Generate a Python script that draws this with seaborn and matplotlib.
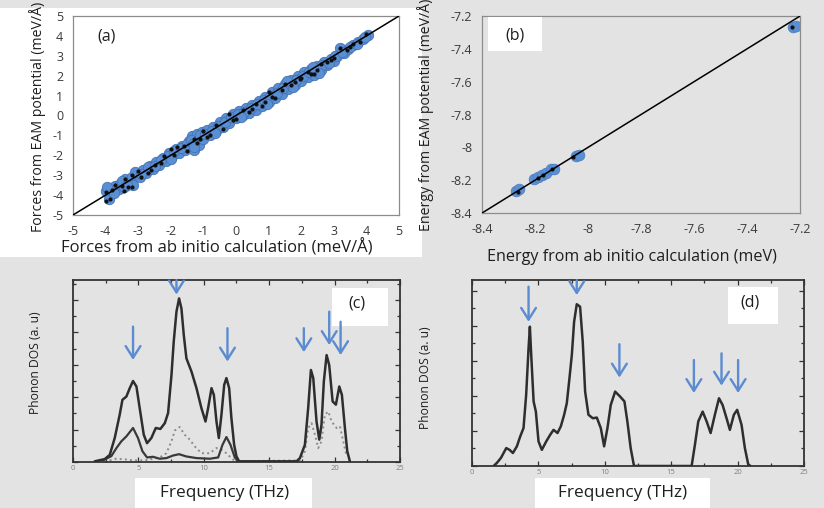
import numpy as np
import matplotlib
matplotlib.use("Agg")
import matplotlib.pyplot as plt
import seaborn as sns
from matplotlib.patches import Rectangle
from matplotlib.ticker import MultipleLocator, FuncFormatter

# ---- data ----
# (a) forces: EAM vs ab initio (meV/A)
blue_x = [-4.0, -3.9, -3.85, -3.7, -3.6, -3.55, -3.45, -3.4, -3.3, -3.2, -3.15, -3.05, -2.95,
          -2.85, -2.75, -2.65, -2.55, -2.45, -2.35, -2.25, -2.15, -2.05, -1.95, -1.85, -1.75,
          -1.65, -1.55, -1.45, -1.4, -1.35, -1.3, -1.25, -1.2, -1.15, -1.05, -1.0, -0.9, -0.8,
          -0.7, -0.6, -0.5, -0.4, -0.3, -0.2, -0.1, 0.0, 0.1, 0.2, 0.3, 0.4, 0.5, 0.6, 0.7, 0.8,
          0.9, 1.0, 1.1, 1.2, 1.3, 1.4, 1.5, 1.6, 1.7, 1.8, 1.9, 2.0, 2.1, 2.2, 2.3, 2.4, 2.5,
          2.6, 2.7, 2.8, 2.9, 3.0, 3.1, 3.2, 3.3, 3.45, 3.6, 3.75, 3.9, 4.05,
          -3.95, -3.75, -3.5, -3.35, -3.1, -2.9, -2.7, -2.5, -2.3, -2.1, -1.9, -1.7, -1.5,
          -1.38, -1.32, -1.28, -1.1, -0.95, -0.75, -0.55, -0.35, -0.15, 0.05, 0.25, 0.45, 0.65,
          0.85, 1.05, 1.25, 1.45, 1.65, 1.85, 2.05, 2.25, 2.45, 2.65, 2.85, 3.05, 3.25, 3.5,
          3.7, 3.95, 2.55, 1.75, 0.95, 0.15, -0.65, -2.0, 2.35, 1.55]
blue_y = [-3.8, -4.2, -3.75, -3.55, -3.7, -3.45, -3.6, -3.2, -3.35, -3.1, -3.5, -2.95, -3.1,
          -2.75, -2.9, -2.55, -2.7, -2.35, -2.5, -2.15, -2.3, -1.9, -2.05, -1.7, -1.9,
          -1.55, -1.75, -1.3, -1.6, -1.05, -1.75, -1.3, -0.95, -1.5, -0.85, -1.2, -0.75, -1.0,
          -0.6, -0.8, -0.35, -0.6, -0.15, -0.4, 0.1, -0.15, 0.25, 0.0, 0.4, 0.15, 0.55, 0.3, 0.75, 0.5,
          0.95, 0.7, 1.2, 0.9, 1.4, 1.1, 1.6, 1.35, 1.8, 1.55, 2.0, 1.75, 2.2, 1.95, 2.35, 2.05, 2.5,
          2.3, 2.7, 2.55, 2.85, 2.75, 3.0, 3.4, 3.15, 3.35, 3.55, 3.7, 3.85, 4.05,
          -3.6, -3.9, -3.3, -3.5, -2.85, -2.95, -2.6, -2.55, -2.25, -2.05, -1.8, -1.65, -1.45,
          -1.25, -1.45, -1.6, -1.0, -0.95, -0.8, -0.55, -0.35, -0.1, 0.05, 0.2, 0.4, 0.6,
          0.8, 1.0, 1.15, 1.4, 1.6, 1.8, 2.0, 2.2, 2.35, 2.55, 2.65, 3.0, 3.2, 3.45,
          3.6, 3.95, 2.15, 1.45, 0.6, -0.1, -0.9, -2.2, 2.45, 1.75]
black_x = [-4.0, -3.85, -4.0, -3.8, -3.7, -3.5, -3.45, -3.3, -3.2, -3.4, -3.2, -3.0, -2.9, -2.7,
           -2.5, -2.3, -2.0, -1.9, -1.8, -1.5, -1.3, -1.2, -1.0, -0.9, -0.6, -0.4, -0.2, 0.0,
           0.2, 0.4, 0.6, 0.8, 1.0, 1.2, 1.4, 1.5, 1.8, 2.0, 2.2, 2.4, 2.6, 2.8, 3.0, 3.2, 3.4,
           3.6, 3.8, 4.0, -2.6, -2.2, -1.6, -0.8, -0.1, 0.5, 1.1, 1.7, 2.3, 2.9, 3.5, -1.1, 0.9,
           2.5, 1.95]
black_y = [-4.3, -4.2, -3.85, -3.75, -3.5, -3.55, -3.8, -3.6, -3.6, -3.2, -3.0, -2.8, -3.1, -2.9,
           -2.5, -2.4, -1.7, -2.0, -1.6, -1.8, -1.2, -1.4, -0.8, -1.1, -0.5, -0.7, 0.1, -0.2,
           0.3, 0.2, 0.6, 0.5, 1.2, 0.9, 1.3, 1.6, 1.7, 1.9, 2.2, 2.1, 2.6, 2.7, 2.9, 3.4, 3.3,
           3.6, 3.7, 4.1, -2.75, -2.05, -1.55, -1.0, -0.25, 0.35, 0.95, 1.55, 2.1, 2.8, 3.45, -1.2, 0.7,
           2.3, 1.85]
diag_a = [-5, 5]

# (b) energies: EAM vs ab initio (meV)
eb_blue_x = [-8.27, -8.26, -8.205, -8.19, -8.175, -8.16, -8.14, -8.13, -8.045, -8.035, -7.225, -7.215]
eb_blue_y = [-8.265, -8.255, -8.195, -8.18, -8.17, -8.155, -8.135, -8.13, -8.05, -8.045, -7.265, -7.26]
eb_black_x = [-8.265, -8.19, -8.17, -8.135, -8.055, -7.23]
eb_black_y = [-8.27, -8.185, -8.17, -8.13, -8.06, -7.27]
diag_b = [-8.4, -7.2]

# (c) phonon DOS, three curves
c_total_f = [1.66, 2.43, 2.81, 3.19, 3.57, 3.78, 4.08, 4.34, 4.59, 4.85, 5.1, 5.41, 5.66, 5.99,
             6.33, 6.68, 7.02, 7.27, 7.53, 7.7, 7.91, 8.11, 8.29, 8.47, 8.67, 9.06, 9.44, 9.82,
             10.13, 10.33, 10.59, 10.77, 10.97, 11.15, 11.35, 11.56, 11.73, 11.94, 12.11, 12.32,
             12.5, 12.7, 17.09, 17.35, 17.73, 17.98, 18.19, 18.37, 18.62, 18.83, 19.0, 19.18,
             19.39, 19.59, 19.85, 20.1, 20.36, 20.56, 20.79, 20.97, 21.17]
c_total_d = [0.02, 0.09, 0.22, 0.74, 1.46, 1.92, 2.02, 2.28, 2.5, 2.33, 1.66, 0.84, 0.58, 0.74,
             1.05, 1.02, 1.2, 1.51, 2.69, 3.71, 4.64, 5.05, 4.74, 3.92, 3.2, 2.79, 2.28, 1.66,
             1.25, 1.66, 2.28, 2.07, 1.25, 0.74, 1.46, 2.38, 2.59, 2.28, 1.36, 0.53,
             0.17, 0.02, 0.02, 0.12, 0.53, 1.66, 2.84, 2.59, 1.25, 0.69, 1.15, 2.49,
             3.3, 2.99, 1.87, 1.77, 2.33, 2.07, 1.05, 0.33, 0.02]
c_low_f = [2.3, 2.93, 3.32, 3.7, 4.08, 4.59, 4.97, 5.31, 5.66, 6.12, 6.63, 7.14, 7.65, 8.11, 8.67,
           9.44, 10.46, 11.1, 11.43, 11.73, 12.04, 12.37, 12.63]
c_low_d = [0.05, 0.18, 0.43, 0.64, 0.79, 1.05, 0.74, 0.33, 0.14, 0.16, 0.1, 0.12, 0.2, 0.24, 0.17,
           0.12, 0.1, 0.14, 0.53, 0.77, 0.53, 0.14, 0.02]
c_dot_f = [2.8, 3.3, 4.0, 4.6, 5.5, 6.63, 7.14, 7.53, 7.78, 8.16, 8.54, 8.93, 9.31, 9.82, 10.46,
           10.97, 11.35, 11.73, 12.11, 12.4, 17.4, 17.73, 17.98, 18.24, 18.5, 18.75, 19.0, 19.26,
           19.52, 19.77, 20.15, 20.41, 20.66, 20.92]
c_dot_d = [0.05, 0.1, 0.08, 0.05, 0.05, 0.14, 0.27, 0.64, 0.97, 1.08, 0.84, 0.69, 0.48, 0.27, 0.27,
           0.43, 0.38, 0.27, 0.12, 0.02, 0.05, 0.33, 1.05, 1.2, 0.84, 0.43, 0.64, 1.46,
           1.56, 1.25, 1.05, 1.1, 0.64, 0.17]
c_arrow_f = [4.59, 7.91, 11.81, 17.65, 19.59, 20.46]
c_arrow_top = [4.18, 5.62, 4.13, 4.13, 4.64, 4.33]
c_arrow_tip = [3.15, 5.17, 3.1, 3.39, 3.61, 3.3]

# (d) phonon DOS
d_f = [1.63, 1.88, 2.18, 2.58, 2.83, 3.08, 3.38, 3.63, 3.88, 4.08, 4.26, 4.36, 4.46, 4.64, 4.81,
       5.01, 5.26, 5.59, 5.89, 6.14, 6.44, 6.69, 6.94, 7.14, 7.34, 7.52, 7.69, 7.89, 8.14, 8.34,
       8.52, 8.77, 9.1, 9.4, 9.7, 9.95, 10.2, 10.45, 10.78, 11.15, 11.48, 11.7, 11.95, 12.2,
       16.54, 16.79, 17.04, 17.37, 17.67, 17.97, 18.29, 18.6, 18.87, 19.17, 19.42, 19.72, 19.97,
       20.3, 20.55, 20.8, 20.97]
d_d = [0.0, 0.09, 0.23, 0.51, 0.46, 0.37, 0.56, 0.84, 1.08, 2.03, 3.36, 3.97, 3.17, 1.84, 1.55,
       0.7, 0.46, 0.7, 0.89, 1.03, 0.94, 1.13, 1.46, 1.79, 2.5, 3.17, 4.11, 4.61, 4.54, 3.54,
       2.12, 1.46, 1.36, 1.38, 1.08, 0.56, 1.08, 1.74, 2.12, 1.98, 1.84, 1.27, 0.51, 0.0,
       0.0, 0.61, 1.27, 1.55, 1.27, 0.94, 1.46, 1.93, 1.74, 1.36, 1.03, 1.46, 1.6,
       1.17, 0.51, 0.05, 0.0]
d_arrow_f = [4.26, 7.89, 11.1, 16.71, 18.79, 20.04]
d_arrow_top = [5.11, 5.3, 3.47, 3.02, 3.21, 3.02]
d_arrow_tip = [4.11, 4.87, 2.52, 2.08, 2.29, 2.08]

freq_ticks = [0, 5, 10, 15, 20, 25]

# ---- style ----
BG = "#e3e3e3"
BLUE = "#5b8fd4"
ARROW = "#5b8bd0"
TC = "#1e1e1e"
sns.set_theme(style="white")
plt.rcParams["font.family"] = ["Open Sans", "DejaVu Sans"]
plt.rcParams["axes.unicode_minus"] = False

fig = plt.figure(figsize=(8.24, 5.08), dpi=100)
fig.patch.set_facecolor(BG)
fig.add_artist(Rectangle((0, 0.494), 0.512, 0.49, transform=fig.transFigure,
                         facecolor="white", edgecolor="none", zorder=-1))
fig.add_artist(Rectangle((0.1638, 0), 0.2148, 0.059, transform=fig.transFigure,
                         facecolor="white", edgecolor="none", zorder=-1))
fig.add_artist(Rectangle((0.649, 0), 0.213, 0.059, transform=fig.transFigure,
                         facecolor="white", edgecolor="none", zorder=-1))

fmt = FuncFormatter(lambda v, p: "%g" % round(v, 2))


def scatter_style(ax):
    for s in ax.spines.values():
        s.set_color("#8c8c8c")
        s.set_linewidth(0.9)
    ax.tick_params(direction="out", length=4, width=0.8, color="#8c8c8c",
                   labelsize=9, labelcolor="#3a3a3a", pad=3)
    ax.xaxis.set_major_formatter(fmt)
    ax.yaxis.set_major_formatter(fmt)


# (a)
ax_a = fig.add_axes([0.0886, 0.5768, 0.3956, 0.3917])
ax_a.set_facecolor("white")
sns.scatterplot(x=blue_x, y=blue_y, ax=ax_a, color=BLUE, s=56, edgecolor="#4274b4",
                linewidth=0.6, zorder=2)
sns.scatterplot(x=black_x, y=black_y, ax=ax_a, color="#111111", s=9, linewidth=0, zorder=3)
sns.lineplot(x=diag_a, y=diag_a, ax=ax_a, color="black", lw=1.1, zorder=4)
ax_a.set_xlim(-5, 5)
ax_a.set_ylim(-5, 5)
ax_a.xaxis.set_major_locator(MultipleLocator(1))
ax_a.yaxis.set_major_locator(MultipleLocator(1))
scatter_style(ax_a)
ax_a.text(0.075, 0.875, "(a)", transform=ax_a.transAxes, fontsize=11.5, color=TC)

# (b)
ax_b = fig.add_axes([0.585, 0.5807, 0.386, 0.3878])
ax_b.set_facecolor(BG)
sns.scatterplot(x=eb_blue_x, y=eb_blue_y, ax=ax_b, color=BLUE, s=60, edgecolor="#4a7cc0",
                linewidth=0.5, zorder=2)
sns.scatterplot(x=eb_black_x, y=eb_black_y, ax=ax_b, color="#111111", s=9, linewidth=0, zorder=3)
sns.lineplot(x=diag_b, y=diag_b, ax=ax_b, color="black", lw=1.1, zorder=4)
ax_b.set_xlim(-8.4, -7.2)
ax_b.set_ylim(-8.4, -7.2)
ax_b.xaxis.set_major_locator(MultipleLocator(0.2))
ax_b.yaxis.set_major_locator(MultipleLocator(0.2))
scatter_style(ax_b)
ax_b.add_patch(Rectangle((0.02, 0.82), 0.17, 0.175, transform=ax_b.transAxes,
                         facecolor="white", edgecolor="none", zorder=5))
ax_b.text(0.105, 0.9, "(b)", transform=ax_b.transAxes, fontsize=11.5, color=TC,
          ha="center", va="center", zorder=6)


def dos_style(ax, ymax):
    ax.set_facecolor(BG)
    ax.set_xlim(0, 25)
    ax.set_ylim(0, ymax)
    ax.set_xticks(freq_ticks)
    ax.xaxis.set_minor_locator(MultipleLocator(2.5))
    ax.yaxis.set_major_locator(MultipleLocator(1))
    ax.yaxis.set_minor_locator(MultipleLocator(0.5))
    ax.set_yticklabels([])
    for s in ax.spines.values():
        s.set_color("#333333")
        s.set_linewidth(1.3)
    ax.tick_params(which="both", direction="in", top=True, right=True, left=True, bottom=True,
                   color="#333333", width=0.9)
    ax.tick_params(which="major", length=3.5)
    ax.tick_params(which="minor", length=2)
    ax.tick_params(axis="x", labelsize=5.5, labelcolor="#808080", pad=2)
    ax.set_xlabel("")
    ax.set_ylabel("")


def arrows(ax, fs, tops, tips):
    for f, t0, t1 in zip(fs, tops, tips):
        ax.annotate("", xy=(f, t1), xytext=(f, t0),
                    arrowprops=dict(arrowstyle="->,head_length=0.6,head_width=0.38",
                                    color=ARROW, lw=1.7, shrinkA=0, shrinkB=0,
                                    mutation_scale=14), zorder=7)


def label_box(ax, x0, y0, w, h, txt):
    ax.add_patch(Rectangle((x0, y0), w, h, transform=ax.transAxes,
                           facecolor="white", edgecolor="none", zorder=5))
    ax.text(x0 + w * 0.45, y0 + h * 0.58, txt, transform=ax.transAxes, fontsize=11.5,
            ha="center", va="center", color=TC, zorder=6)


# (c)
ax_c = fig.add_axes([0.0886, 0.0906, 0.3968, 0.3583])
sns.lineplot(x=c_dot_f, y=c_dot_d, ax=ax_c, color="#8a8a8a", lw=1.4, ls=":", zorder=2)
sns.lineplot(x=c_low_f, y=c_low_d, ax=ax_c, color="#3a3a3a", lw=1.6, zorder=3)
sns.lineplot(x=c_total_f, y=c_total_d, ax=ax_c, color="#2e2e2e", lw=1.8, zorder=4)
dos_style(ax_c, 5.62)
arrows(ax_c, c_arrow_f, c_arrow_top, c_arrow_tip)
label_box(ax_c, 0.792, 0.748, 0.171, 0.208, "(c)")

# (d)
ax_d = fig.add_axes([0.5728, 0.0827, 0.4029, 0.3661])
sns.lineplot(x=d_f, y=d_d, ax=ax_d, color="#2e2e2e", lw=1.8, zorder=4)
dos_style(ax_d, 5.3)
arrows(ax_d, d_arrow_f, d_arrow_top, d_arrow_tip)
label_box(ax_d, 0.771, 0.762, 0.15, 0.202, "(d)")

# axis titles placed as in the picture
fig.text(0.263, 0.512, "Forces from ab initio calculation (meV/Å)", ha="center", va="center",
         fontsize=12, color=TC)
fig.text(0.046, 0.770, "Forces from EAM potential (meV/Å)", ha="center", va="center",
         rotation=90, fontsize=10.2, color=TC)
fig.text(0.767, 0.494, "Energy from ab initio calculation (meV)", ha="center", va="center",
         fontsize=11.6, color=TC)
fig.text(0.516, 0.774, "Energy from EAM potential (meV/Å)", ha="center", va="center",
         rotation=90, fontsize=10.2, color=TC)
fig.text(0.0425, 0.287, "Phonon DOS (a. u)", ha="center", va="center", rotation=90,
         fontsize=8.7, color=TC)
fig.text(0.516, 0.256, "Phonon DOS (a. u)", ha="center", va="center", rotation=90,
         fontsize=8.7, color=TC)
fig.text(0.272, 0.0295, "Frequency (THz)", ha="center", va="center", fontsize=12.4, color=TC)
fig.text(0.755, 0.0295, "Frequency (THz)", ha="center", va="center", fontsize=12.4, color=TC)

fig.savefig("out.png", dpi=100, facecolor=fig.get_facecolor())
